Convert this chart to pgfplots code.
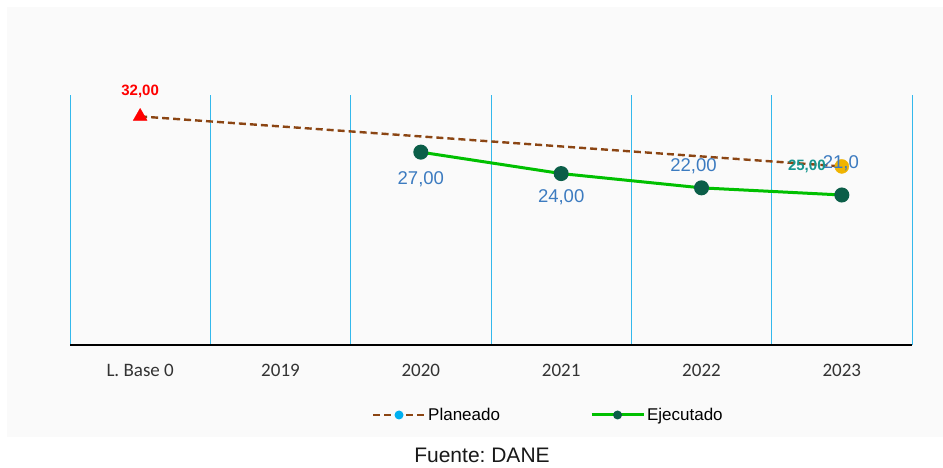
\documentclass[border=0pt]{standalone}
\usepackage{pgfplots}
\pgfplotsset{compat=1.18}
\usepackage{pgfplotstable}
\usepackage{fontspec}
\setmainfont{Liberation Sans}
\newfontfamily\calibri{Carlito}

\definecolor{panel}{HTML}{FAFAFA}
\definecolor{gridblue}{HTML}{33B8EC}
\definecolor{planbrown}{HTML}{8B4513}
\definecolor{ejegreen}{HTML}{00C000}
\definecolor{ejedark}{HTML}{0B5E48}
\definecolor{lblblue}{HTML}{3C7BC0}
\definecolor{lblteal}{HTML}{17968F}
\definecolor{legblue}{HTML}{00B0F0}
\definecolor{markyellow}{HTML}{F0B400}

% Planeado: linea base y meta 2023
\pgfplotstableread{
x y
0 32
5 25
}\planeado

% Ejecutado
\pgfplotstableread{
x y
2 27
3 24
4 22
5 21
}\ejecutado

% etiquetas de datos (x, y, desplazamiento en pt, texto)
\pgfplotstableread{
x y dx dy lab
2 27 0 -27 27,00
3 24 0 -24 24,00
4 22 -8 22 22,00
5 21 -1 32 21,0
}\etiqazul

\begin{document}
\frenchspacing
\begin{tikzpicture}[x=1pt,y=1pt]
\fill[white] (0,0) rectangle (943,468);
\fill[panel] (7,31) rectangle (943,461);
\begin{axis}[
  at={(70pt,123pt)}, anchor=south west,
  scale only axis,
  width=842pt, height=250pt,
  xmin=-0.5, xmax=5.5, ymin=0, ymax=35,
  axis x line=bottom, axis y line=none,
  axis line style={black, line width=1.8pt, -},
  xtick={0,1,2,3,4,5},
  xticklabels={L. Base 0,2019,2020,2021,2022,2023},
  minor xtick={-0.5,0.5,1.5,2.5,3.5,4.5,5.5},
  xminorgrids=true,
  minor grid style={gridblue, line width=0.9pt},
  major tick length=0pt, minor tick length=0pt,
  xticklabel style={font=\calibri\fontsize{19}{19}\selectfont, text=black!80, yshift=-16pt},
  clip=false,
  legend columns=2,
  legend style={at={(0.568,-0.28)}, anchor=center, draw=none, fill=none,
    font=\fontsize{17}{17}\selectfont,
    /tikz/every even column/.append style={column sep=88pt}},
]
\addplot[planbrown, line width=2.4pt, dash pattern=on 7pt off 4pt,
  legend image code/.code={
    \draw[planbrown, line width=2.4pt, dash pattern=on 7pt off 4pt] (0pt,0pt)--(52pt,0pt);
    \path[fill=legblue, draw=none, solid] (26pt,0pt) circle (4.5pt);}]
  table[x=x,y=y]{\planeado};
\addlegendentry{Planeado}
\addplot[ejegreen, line width=3pt, mark=*, mark size=6pt,
  mark options={fill=ejedark, draw=ejedark},
  legend image code/.code={
    \draw[ejegreen, line width=3pt] (0pt,0pt)--(52pt,0pt);
    \path[fill=ejedark, draw=none, solid] (26pt,0pt) circle (4.5pt);}]
  table[x=x,y=y]{\ejecutado};
\addlegendentry{Ejecutado}
% marcadores de la serie planeada
\addplot[forget plot, only marks, mark=triangle*, mark size=8pt, color=red]
  coordinates {(0,32)};
\addplot[forget plot, only marks, mark=*, mark size=7pt, color=markyellow]
  coordinates {(5,25)};
% etiquetas
\addplot[forget plot, only marks, mark=none,
  nodes near coords, point meta=explicit symbolic,
  visualization depends on={\thisrow{dx} \as \dx},
  visualization depends on={\thisrow{dy} \as \dy},
  nodes near coords style={anchor=center, xshift=\dx pt, yshift=\dy pt,
    text=lblblue, font=\fontsize{18.5}{18.5}\selectfont}]
  table[x=x,y=y,meta=lab]{\etiqazul};
\addplot[forget plot, only marks, mark=none,
  nodes near coords, point meta=explicit symbolic,
  nodes near coords style={anchor=center, yshift=25pt,
    text=red, font=\bfseries\fontsize{15}{15}\selectfont}]
  table[x=x,y=y,meta=lab]{
x y lab
0 32 32,00
};
\addplot[forget plot, only marks, mark=none,
  nodes near coords, point meta=explicit symbolic,
  nodes near coords style={anchor=center, xshift=-35pt,
    text=lblteal, font=\bfseries\fontsize{15}{15}\selectfont}]
  table[x=x,y=y,meta=lab]{
x y lab
5 25 25,00
};
\end{axis}
\node[font=\fontsize{21}{21}\selectfont, text=black!90] at (482,13) {Fuente: DANE};
\end{tikzpicture}
\end{document}
